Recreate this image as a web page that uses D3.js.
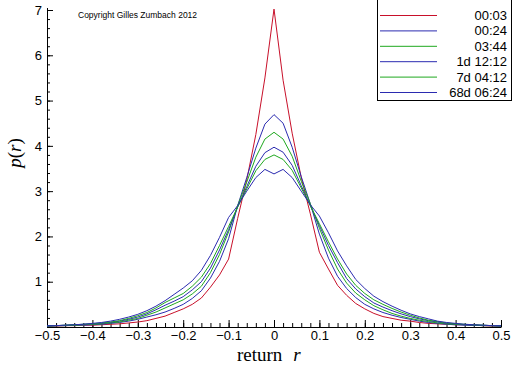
<!DOCTYPE html>
<html>
<head>
    <title>Return density</title>
    <meta charset="utf-8">
    <style>
        body { margin: 0; background: #fff; }
        svg { display: block; }
    </style>
</head>
<body>

<svg id="svg"></svg>
<script src="https://cdn.jsdelivr.net/npm/d3@7"></script>
<script>
    // return grid, -0.5 .. 0.5 step 0.02
    const returns = [-0.50, -0.48, -0.46, -0.44, -0.42, -0.40, -0.38, -0.36, -0.34, -0.32,
        -0.30, -0.28, -0.26, -0.24, -0.22, -0.20, -0.18, -0.16, -0.14, -0.12,
        -0.10, -0.08, -0.06, -0.04, -0.02, 0.00, 0.02, 0.04, 0.06, 0.08,
        0.10, 0.12, 0.14, 0.16, 0.18, 0.20, 0.22, 0.24, 0.26, 0.28,
        0.30, 0.32, 0.34, 0.36, 0.38, 0.40, 0.42, 0.44, 0.46, 0.48, 0.50]

    const seriesNames = ['00:03', '00:24', '03:44', '1d 12:12', '7d 04:12', '68d 06:24']

    const p0003 = [0.02, 0.02, 0.03, 0.03, 0.04, 0.04, 0.05, 0.06, 0.07, 0.09,
        0.11, 0.14, 0.19, 0.24, 0.32, 0.40, 0.50, 0.64, 0.88, 1.15,
        1.50, 2.40, 3.25, 4.25, 5.50, 7.02, 5.45, 4.28, 3.30, 2.50,
        1.65, 1.28, 0.92, 0.70, 0.52, 0.40, 0.30, 0.23, 0.19, 0.15,
        0.13, 0.10, 0.08, 0.07, 0.06, 0.05, 0.05, 0.04, 0.03, 0.02, 0.02]
    const p0024 = [0.02, 0.03, 0.03, 0.04, 0.04, 0.05, 0.06, 0.08, 0.10, 0.13,
        0.17, 0.22, 0.27, 0.33, 0.41, 0.50, 0.63, 0.80, 1.08, 1.45,
        1.95, 2.68, 3.30, 3.95, 4.48, 4.69, 4.50, 3.97, 3.32, 2.72,
        2.05, 1.52, 1.12, 0.85, 0.65, 0.50, 0.40, 0.32, 0.26, 0.21,
        0.17, 0.13, 0.10, 0.08, 0.06, 0.05, 0.04, 0.04, 0.03, 0.03, 0.02]
    const p0344 = [0.02, 0.03, 0.03, 0.04, 0.05, 0.06, 0.07, 0.09, 0.11, 0.15,
        0.19, 0.26, 0.33, 0.42, 0.51, 0.60, 0.73, 0.90, 1.20, 1.60,
        2.10, 2.68, 3.20, 3.75, 4.15, 4.30, 4.15, 3.77, 3.22, 2.72,
        2.18, 1.70, 1.28, 0.97, 0.75, 0.60, 0.47, 0.38, 0.30, 0.24,
        0.19, 0.15, 0.12, 0.09, 0.07, 0.06, 0.05, 0.04, 0.03, 0.03, 0.02]
    const p1d = [0.02, 0.03, 0.04, 0.05, 0.06, 0.07, 0.08, 0.10, 0.13, 0.17,
        0.22, 0.29, 0.38, 0.48, 0.57, 0.67, 0.82, 1.00, 1.30, 1.70,
        2.15, 2.65, 3.10, 3.55, 3.85, 3.97, 3.86, 3.57, 3.12, 2.68,
        2.24, 1.80, 1.42, 1.07, 0.84, 0.67, 0.53, 0.44, 0.36, 0.29,
        0.23, 0.18, 0.14, 0.11, 0.08, 0.07, 0.05, 0.04, 0.04, 0.03, 0.02]
    const p7d = [0.03, 0.03, 0.04, 0.05, 0.06, 0.07, 0.09, 0.11, 0.14, 0.19,
        0.25, 0.32, 0.42, 0.54, 0.64, 0.74, 0.90, 1.10, 1.40, 1.80,
        2.22, 2.65, 3.05, 3.45, 3.70, 3.80, 3.70, 3.46, 3.07, 2.68,
        2.28, 1.88, 1.50, 1.17, 0.92, 0.74, 0.60, 0.50, 0.41, 0.33,
        0.26, 0.20, 0.15, 0.12, 0.09, 0.07, 0.06, 0.05, 0.04, 0.03, 0.03]
    const p68d = [0.03, 0.03, 0.04, 0.05, 0.06, 0.08, 0.10, 0.13, 0.17, 0.22,
        0.28, 0.36, 0.46, 0.58, 0.72, 0.86, 1.02, 1.25, 1.58, 1.98,
        2.42, 2.68, 3.00, 3.30, 3.48, 3.38, 3.48, 3.30, 3.00, 2.70,
        2.45, 2.08, 1.68, 1.35, 1.05, 0.85, 0.68, 0.56, 0.46, 0.37,
        0.29, 0.23, 0.18, 0.13, 0.10, 0.08, 0.06, 0.05, 0.04, 0.03, 0.03]

    const xTicks = [-0.5, -0.4, -0.3, -0.2, -0.1, 0, 0.1, 0.2, 0.3, 0.4, 0.5]
    const yTicks = [1, 2, 3, 4, 5, 6, 7]

    const WIDTH = 512
    const HEIGHT = 366
    const RED = '#c8102a'
    const BLUE = '#2b2bb0'
    const GREEN = '#1fa81f'
    const colors = [RED, BLUE, GREEN, BLUE, GREEN, BLUE]
    const allSeries = [p0003, p0024, p0344, p1d, p7d, p68d]

    const svg = d3.select('svg')
        .attr('width', WIDTH)
        .attr('height', HEIGHT)
        .attr('font-family', '"Liberation Sans", Arial, sans-serif')

    const x = d3.scaleLinear().domain([-0.5, 0.5]).range([47, 501])
    const y = d3.scaleLinear().domain([0, 7]).range([327, 10])

    // minor ticks first
    svg.append('g')
        .attr('transform', 'translate(0,327)')
        .call(d3.axisBottom(x).tickValues(d3.range(-50, 51, 2).map(d => d / 100))
            .tickSizeInner(-4).tickSizeOuter(0).tickFormat(''))
        .call(g => g.select('.domain').remove())
    svg.append('g')
        .attr('transform', 'translate(47,0)')
        .call(d3.axisLeft(y).tickValues(d3.range(0, 36).map(d => d / 5))
            .tickSizeInner(-3).tickSizeOuter(0).tickFormat(''))
        .call(g => g.select('.domain').remove())

    const xAxis = svg.append('g')
        .attr('transform', 'translate(0,327)')
        .call(d3.axisBottom(x).tickValues(xTicks)
            .tickSizeInner(-7).tickSizeOuter(0).tickPadding(4)
            .tickFormat(d => d === 0 ? '0' : d3.format('.1f')(d)))
    xAxis.selectAll('text').attr('font-size', 13).attr('font-family', '"Liberation Sans", Arial, sans-serif')

    const yAxis = svg.append('g')
        .attr('transform', 'translate(47,0)')
        .call(d3.axisLeft(y).tickValues(yTicks)
            .tickSizeInner(-6).tickSizeOuter(0).tickPadding(5)
            .tickFormat(d3.format('d')))
    yAxis.selectAll('text').attr('font-size', 13).attr('font-family', '"Liberation Sans", Arial, sans-serif')
    yAxis.select('.domain').attr('d', 'M0.5,327V8')

    svg.selectAll('.tick line').attr('stroke', '#000')

    const line = d3.line()
        .x((d, i) => x(returns[i]))
        .y(d => y(d))

    svg.append('g')
        .selectAll('path')
        .data(allSeries)
        .enter().append('path')
        .attr('d', line)
        .attr('fill', 'none')
        .attr('stroke', (d, i) => colors[i])
        .attr('stroke-width', 1)

    // copyright
    svg.append('text')
        .attr('x', 78)
        .attr('y', 18)
        .attr('font-size', 8.5)
        .text('Copyright Gilles Zumbach 2012')

    // axis titles
    svg.append('text')
        .attr('x', 237)
        .attr('y', 361)
        .attr('font-family', '"Liberation Serif", "Times New Roman", serif')
        .attr('font-size', 19)
        .text('return ')
        .append('tspan')
        .attr('dx', 6)
        .attr('font-style', 'italic')
        .text('r')

    const yTitle = svg.append('text')
        .attr('transform', 'translate(21,153) rotate(-90)')
        .attr('text-anchor', 'middle')
        .attr('font-family', '"Liberation Serif", "Times New Roman", serif')
        .attr('font-size', 19)
    yTitle.append('tspan').attr('font-style', 'italic').text('p')
    yTitle.append('tspan').text('(')
    yTitle.append('tspan').attr('font-style', 'italic').text('r')
    yTitle.append('tspan').text(')')

    // legend
    const legend = svg.append('g')
    legend.append('rect')
        .attr('x', 377.5)
        .attr('y', -0.5)
        .attr('width', 134)
        .attr('height', 101)
        .attr('fill', '#fff')
        .attr('stroke', '#000')

    const rows = legend.selectAll('g.row')
        .data(seriesNames)
        .enter().append('g')
        .attr('class', 'row')
        .attr('transform', (d, i) => `translate(0,${15.5 + i * 15.4})`)
    rows.append('line')
        .attr('x1', 380).attr('x2', 437)
        .attr('stroke', (d, i) => colors[i])
    rows.append('text')
        .attr('x', 507)
        .attr('dy', 4.5)
        .attr('text-anchor', 'end')
        .attr('font-size', 13)
        .text(d => d)
</script>
</body>
</html>
